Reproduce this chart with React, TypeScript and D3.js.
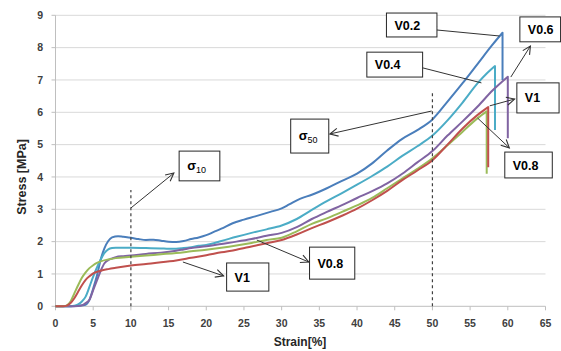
import React from "react";
import * as d3 from "d3";

const W = 561;
const H = 351;

// Axis ticks
const xTicks = [0, 5, 10, 15, 20, 25, 30, 35, 40, 45, 50, 55, 60, 65];
const yTicks = [0, 1, 2, 3, 4, 5, 6, 7, 8, 9];

// Series V0.2 (blue)
const v02Strain = [0, 1.5, 3, 4, 4.5, 5, 5.5, 6, 6.5, 7, 7.5, 8.3, 9, 10, 11, 12, 13, 14, 15, 16, 17, 18, 19, 20, 21, 22, 23.5, 25, 26.5, 28.5, 30, 31, 32.5, 34, 36, 38, 40, 42, 44, 46, 48, 50, 52, 54, 56, 58, 59.3];
const v02Stress = [0, 0, 0.02, 0.05, 0.2, 0.55, 0.95, 1.45, 1.8, 2.02, 2.13, 2.17, 2.15, 2.12, 2.08, 2.05, 2.06, 2.03, 2.0, 1.99, 2.02, 2.08, 2.13, 2.2, 2.3, 2.4, 2.57, 2.68, 2.78, 2.92, 3.03, 3.15, 3.33, 3.45, 3.65, 3.88, 4.1, 4.42, 4.82, 5.18, 5.45, 5.78, 6.33, 6.9, 7.5, 8.1, 8.46];
const v02Drop = 7.0;

// Series V0.4 (cyan)
const v04Strain = [0, 1.5, 2.5, 3, 3.5, 4, 4.5, 5, 5.5, 6, 6.5, 7, 7.5, 8, 10, 12, 14, 15, 16, 17, 18, 19, 20, 22, 24, 26, 28, 30, 32, 34, 36, 38, 40, 42, 44, 46, 48, 50, 52, 54, 56, 57.2, 58.3];
const v04Stress = [0, 0, 0.02, 0.06, 0.15, 0.3, 0.6, 0.92, 1.2, 1.45, 1.65, 1.76, 1.8, 1.81, 1.81, 1.8, 1.79, 1.78, 1.78, 1.8, 1.83, 1.87, 1.9, 2.02, 2.15, 2.27, 2.38, 2.5, 2.7, 2.98, 3.25, 3.5, 3.76, 4.03, 4.32, 4.65, 4.95, 5.28, 5.75, 6.3, 6.9, 7.2, 7.43];
const v04Drop = 5.45;

// Series V0.6 (purple)
const v06Strain = [0, 2, 3, 3.5, 4, 4.5, 5, 5.5, 6, 6.5, 7, 7.5, 8, 9, 10, 12, 14, 16, 17, 18, 20, 22, 24, 26, 28, 30, 32, 34, 36, 38, 40, 42, 44, 46, 48, 50, 52, 54, 56, 58, 60];
const v06Stress = [0, 0, 0.01, 0.03, 0.1, 0.2, 0.5, 0.8, 1.1, 1.33, 1.43, 1.48, 1.52, 1.55, 1.57, 1.62, 1.66, 1.72, 1.76, 1.8, 1.86, 1.93, 2.0, 2.08, 2.18, 2.27, 2.45, 2.7, 2.92, 3.13, 3.35, 3.56, 3.8, 4.1, 4.45, 4.8, 5.28, 5.72, 6.18, 6.68, 7.1];
const v06Drop = 5.2;

// Series V0.8 (green)
const v08Strain = [0, 1, 1.5, 2, 2.5, 3, 3.5, 4, 4.5, 5, 5.5, 6, 7, 8, 10, 12, 14, 16, 18, 20, 22, 24, 26, 28, 30, 32, 34, 36, 38, 40, 42, 44, 46, 48, 50, 52, 54, 56, 57.2];
const v08Stress = [0, 0, 0.03, 0.15, 0.4, 0.65, 0.88, 1.05, 1.18, 1.27, 1.34, 1.39, 1.45, 1.49, 1.53, 1.57, 1.61, 1.65, 1.7, 1.75, 1.81, 1.88, 1.96, 2.05, 2.12, 2.32, 2.55, 2.72, 2.92, 3.12, 3.35, 3.65, 3.95, 4.25, 4.58, 4.98, 5.4, 5.82, 6.03];
const v08Drop = 4.1;

// Series V1 (red)
const v1Strain = [0, 1, 1.5, 2, 2.5, 3, 3.5, 4, 4.5, 5, 6, 7, 8, 10, 12, 14, 16, 18, 20, 22, 24, 26, 28, 30, 32, 34, 36, 38, 40, 42, 44, 46, 48, 50, 52, 54, 56, 57.4];
const v1Stress = [0, 0, 0.02, 0.1, 0.25, 0.45, 0.65, 0.82, 0.93, 1.02, 1.1, 1.15, 1.19, 1.26, 1.31, 1.36, 1.42, 1.5, 1.58, 1.67, 1.75, 1.85, 1.95, 2.05, 2.22, 2.42, 2.6, 2.8, 3.02, 3.28, 3.57, 3.9, 4.2, 4.52, 5.0, 5.5, 5.92, 6.16];
const v1Drop = 4.3;

const seriesNames = ["V0.2", "V0.4", "V0.6", "V0.8", "V1"];
const seriesColors = ["#4a7ebb", "#4bacc6", "#8064a2", "#9bbb59", "#c0504d"];

const series = [
  { name: seriesNames[0], xs: v02Strain, ys: v02Stress, drop: v02Drop, color: seriesColors[0] },
  { name: seriesNames[1], xs: v04Strain, ys: v04Stress, drop: v04Drop, color: seriesColors[1] },
  { name: seriesNames[2], xs: v06Strain, ys: v06Stress, drop: v06Drop, color: seriesColors[2] },
  { name: seriesNames[3], xs: v08Strain, ys: v08Stress, drop: v08Drop, color: seriesColors[3] },
  { name: seriesNames[4], xs: v1Strain, ys: v1Stress, drop: v1Drop, color: seriesColors[4] },
];

// Reference strains (dashed) and their heights
const refStrains = [10, 50];
const refTops = [3.6, 6.65];

// Annotation boxes in data units: [x0, x1, yLow, yHigh]
const boxLabels = ["σ10", "σ50", "V0.2", "V0.4", "V0.6", "V1", "V0.8", "V0.8", "V1"];
const boxX0 = [16.4, 31.2, 43.9, 41.3, 61.6, 61.2, 59.6, 33.7, 22.7];
const boxX1 = [21.8, 36.25, 50.6, 48.7, 67.0, 66.8, 65.9, 39.7, 28.3];
const boxY0 = [3.88, 4.74, 8.33, 7.09, 8.18, 5.98, 3.97, 0.84, 0.47];
const boxY1 = [4.8, 5.79, 9.07, 7.86, 8.95, 6.91, 4.77, 1.83, 1.34];

// Arrows in data units
const arrowFromX = [10.0, 49.9, 58.9, 56.5, 60.4, 57.6, 56.0, 26.7, 16.9];
const arrowFromY = [3.04, 6.04, 8.36, 6.91, 7.09, 6.2, 5.82, 2.05, 1.37];
const arrowToX = [15.7, 36.4, 49.5, 46.1, 63.0, 60.9, 60.2, 33.6, 22.3];
const arrowToY = [4.12, 5.33, 8.57, 7.53, 8.05, 6.41, 4.9, 1.37, 0.94];

export default function App() {
  const x = d3.scaleLinear().domain([0, 65]).range([55.5, 545.5]);
  const y = d3.scaleLinear().domain([0, 9]).range([306.3, 15.3]);

  const line = d3
    .line<[number, number]>()
    .x((d) => x(d[0]))
    .y((d) => y(d[1]))
    .curve(d3.curveMonotoneX);

  const font = "'Liberation Sans', Arial, sans-serif";
  const tickColor = "#404040";

  return (
    <svg
      width={W}
      height={H}
      style={{ position: "absolute", left: 0, top: 0, background: "#fff" }}
      fontFamily={font}
    >
      <defs>
        <marker
          id="arr"
          markerUnits="userSpaceOnUse"
          markerWidth="14"
          markerHeight="14"
          viewBox="-12 -7 14 14"
          refX="0"
          refY="0"
          orient="auto"
        >
          <path d="M-8,-4 L0,0 L-8,4" fill="none" stroke="#333" strokeWidth="1.1" />
        </marker>
      </defs>
      <rect x={0} y={0} width={W} height={H} fill="#fff" />

      {/* gridlines */}
      {yTicks
        .filter((t) => t > 0)
        .map((t) => (
          <line key={"g" + t} x1={x(0)} x2={x(65)} y1={y(t)} y2={y(t)} stroke="#d9d9d9" strokeWidth={1} />
        ))}

      {/* axes */}
      <line x1={x(0)} x2={x(0)} y1={y(0)} y2={y(9)} stroke="#bfbfbf" />
      <line x1={x(0)} x2={x(65)} y1={y(0)} y2={y(0)} stroke="#bfbfbf" />
      {yTicks.map((t) => (
        <g key={"yt" + t}>
          <line x1={x(0) - 4} x2={x(0)} y1={y(t)} y2={y(t)} stroke="#bfbfbf" />
          <text x={43} y={y(t) + 3.8} textAnchor="end" fontSize={10.5} fontWeight="bold" fill={tickColor}>
            {t}
          </text>
        </g>
      ))}
      {xTicks.map((t) => (
        <g key={"xt" + t}>
          <line x1={x(t)} x2={x(t)} y1={y(0)} y2={y(0) + 4} stroke="#bfbfbf" />
          <text x={x(t)} y={327} textAnchor="middle" fontSize={10.5} fontWeight="bold" fill={tickColor}>
            {t}
          </text>
        </g>
      ))}

      {/* axis titles */}
      <text
        transform={`translate(26,${177}) rotate(-90)`}
        textAnchor="middle"
        fontSize={12.5}
        fontWeight="bold"
        fill="#262626"
      >
        Stress [MPa]
      </text>
      <text x={300} y={346} textAnchor="middle" fontSize={12} fontWeight="bold" fill="#262626">
        Strain[%]
      </text>

      {/* curves */}
      {series.map((s) => {
        const pts: [number, number][] = s.xs.map((v, i) => [v, s.ys[i]]);
        const last = pts[pts.length - 1];
        const d = (line(pts) || "") + `L${x(last[0])},${y(s.drop)}`;
        return <path key={s.name} d={d} fill="none" stroke={s.color} strokeWidth={2} strokeLinejoin="round" />;
      })}

      {/* dashed reference lines */}
      {refStrains.map((r, i) => (
        <line
          key={"r" + r}
          x1={x(r)}
          x2={x(r)}
          y1={y(0)}
          y2={y(refTops[i])}
          stroke="#404040"
          strokeWidth={1.2}
          strokeDasharray="3,3"
        />
      ))}

      {/* arrows */}
      {arrowFromX.map((fx, i) => (
        <line
          key={"a" + i}
          x1={x(fx)}
          y1={y(arrowFromY[i])}
          x2={x(arrowToX[i])}
          y2={y(arrowToY[i])}
          stroke="#333"
          strokeWidth={1}
          markerEnd="url(#arr)"
        />
      ))}

      {/* annotation boxes */}
      {boxLabels.map((lab, i) => {
        const bx = x(boxX0[i]);
        const bw = x(boxX1[i]) - x(boxX0[i]);
        const by = y(boxY1[i]);
        const bh = y(boxY0[i]) - y(boxY1[i]);
        const cy = by + bh / 2;
        const isSigma = lab.startsWith("σ");
        return (
          <g key={"b" + i}>
            <rect x={bx} y={by} width={bw} height={bh} fill="#fff" stroke="#262626" strokeWidth={1} />
            {isSigma ? (
              <text x={bx + 8} y={cy + 4} fontSize={13} fontWeight="bold" fill="#000">
                σ
                <tspan fontSize={9} fontWeight="normal" dy={3}>
                  {lab.slice(1)}
                </tspan>
              </text>
            ) : (
              <text x={bx + 8} y={cy + 4.5} fontSize={12.5} fontWeight="bold" fill="#000">
                {lab}
              </text>
            )}
          </g>
        );
      })}
    </svg>
  );
}
